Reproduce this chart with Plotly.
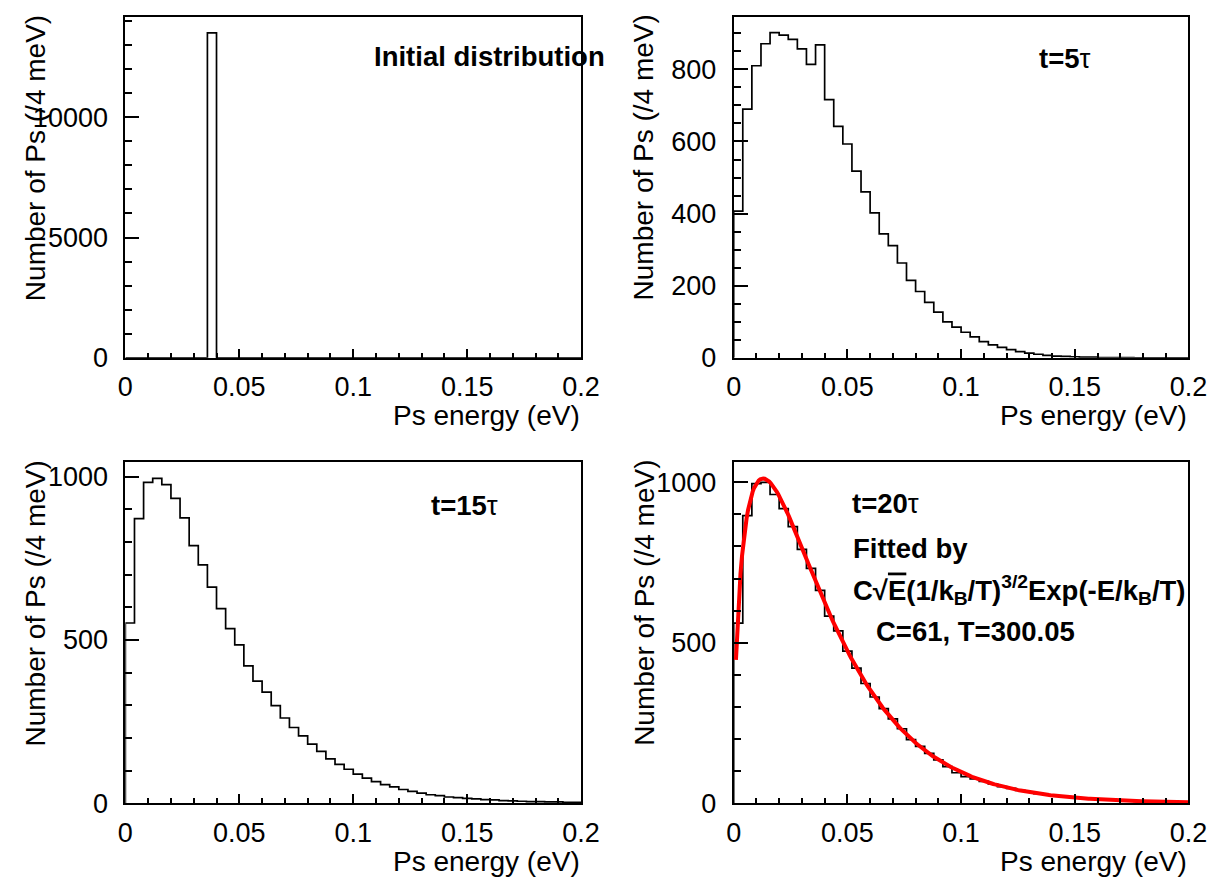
import numpy as np
import plotly.graph_objects as go

W, H = 1228, 889

# ---------------- data ----------------
E_MIN, E_MAX, N_BINS = 0.0, 0.2, 50          # Ps energy (eV), 4 meV bins

counts_initial = [0] * 9 + [13500] + [0] * 40

counts_5tau = [407, 690, 810, 871, 902, 895, 883, 857, 814, 868,
               716, 642, 593, 518, 460, 402, 344, 311, 263, 215,
               184, 154, 127, 100, 85, 71, 58, 45, 36, 29,
               23, 17, 13, 10, 7, 5, 4, 3, 2, 2,
               1, 1, 1, 1, 0, 0, 0, 0, 0, 0]

counts_15tau = [552, 872, 983, 995, 976, 934, 874, 789, 730, 662,
                596, 535, 485, 421, 374, 340, 299, 261, 232, 206,
                181, 159, 136, 119, 104, 89, 77, 66, 57, 50,
                42, 36, 31, 26, 23, 19, 17, 15, 13, 11,
                10, 8, 7, 6, 5, 5, 4, 4, 3, 3]

counts_20tau = [561, 896, 996, 1000, 962, 918, 862, 791, 732, 663,
                583, 537, 474, 421, 373, 331, 295, 263, 232, 198,
                177, 155, 135, 114, 95, 83, 76, 68, 60, 52,
                46, 40, 35, 30, 26, 23, 20, 17, 15, 13,
                11, 10, 8, 7, 6, 5, 5, 4, 4, 3]

# fit parameters quoted on the chart
fit_C = 61.0
fit_T = 300.05
k_B = 8.617333e-5           # eV/K
fit_E_start = 0.001

x_tick_vals = [0, 0.05, 0.1, 0.15, 0.2]
x_tick_text = ["0", "0.05", "0.1", "0.15", "0.2"]

panel_labels = ["Initial distribution", "t=5", "t=15", "t=20"]
x_title = "Ps energy (eV)"
y_title = "Number of Ps (/4 meV)"

# ---------------- helpers ----------------
FONT = "Liberation Sans, Arial, Helvetica, sans-serif"
edges = np.linspace(E_MIN, E_MAX, N_BINS + 1)


def px_x(p):
    return p / W


def px_y(p):
    return (H - p) / H


def step_trace(counts, xa, ya):
    xs = [edges[0]] + list(edges)
    ys = [0] + list(counts) + [0]
    return go.Scatter(x=xs, y=ys, mode="lines", line=dict(shape="hv", color="black", width=1.7),
                      xaxis=xa, yaxis=ya, showlegend=False, hoverinfo="skip")


# frames in pixels
cols = [(120, 586), (742, 1207)]
rows = [(17, 364), (470, 817)]

panels = [
    dict(col=0, row=0, counts=counts_initial, ymax=14175, ymaj=[0, 5000, 10000], ymin_step=1000),
    dict(col=1, row=0, counts=counts_5tau, ymax=946, ymaj=[0, 200, 400, 600, 800], ymin_step=50),
    dict(col=0, row=1, counts=counts_15tau, ymax=1045, ymaj=[0, 500, 1000], ymin_step=100),
    dict(col=1, row=1, counts=counts_20tau, ymax=1063, ymaj=[0, 500, 1000], ymin_step=100),
]

fig = go.Figure()
layout = dict(width=W, height=H, margin=dict(l=0, r=0, t=0, b=0, pad=0),
              paper_bgcolor="white", plot_bgcolor="white",
              font=dict(family=FONT, color="black"), showlegend=False)

x_minor = [v for v in np.arange(0, 0.2001, 0.01) if all(abs(v - m) > 1e-9 for m in x_tick_vals)]

annotations = []
for i, p in enumerate(panels):
    n = "" if i == 0 else str(i + 1)
    xa, ya = "x" + n, "y" + n
    x0, x1 = cols[p["col"]]
    y0, y1 = rows[p["row"]]
    fig.add_trace(step_trace(p["counts"], xa, ya))
    y_minor = [v for v in np.arange(0, p["ymax"], p["ymin_step"]) if v not in p["ymaj"]]
    layout["xaxis" + n] = dict(
        domain=[px_x(x0), px_x(x1)], anchor=ya, range=[E_MIN, E_MAX],
        tickmode="array", tickvals=x_tick_vals, ticktext=x_tick_text,
        ticks="inside", ticklen=9, tickwidth=1.5, tickcolor="black",
        showline=True, linecolor="black", linewidth=2, mirror=True,
        showgrid=False, zeroline=False, tickfont=dict(size=27, family=FONT),
        ticklabelstandoff=4,
        minor=dict(tickmode="array", tickvals=x_minor, ticks="inside", ticklen=5,
                   tickwidth=1.5, tickcolor="black", showgrid=False),
    )
    layout["yaxis" + n] = dict(
        domain=[px_y(y1), px_y(y0)], anchor=xa, range=[0, p["ymax"]],
        tickmode="array", tickvals=p["ymaj"], ticktext=[str(v) for v in p["ymaj"]],
        ticks="inside", ticklen=14, tickwidth=1.5, tickcolor="black",
        showline=True, linecolor="black", linewidth=2, mirror=True,
        showgrid=False, zeroline=False, tickfont=dict(size=27, family=FONT),
        ticklabelstandoff=10,
        minor=dict(tickmode="array", tickvals=y_minor, ticks="inside", ticklen=7,
                   tickwidth=1.5, tickcolor="black", showgrid=False),
    )
    # axis titles
    annotations.append(dict(text=x_title, xref="paper", yref="paper",
                            x=px_x(x1 + 1), y=px_y(y1 + 59), xanchor="right", yanchor="middle",
                            showarrow=False, font=dict(size=28, family=FONT)))
    annotations.append(dict(text=y_title, xref="paper", yref="paper", textangle=-90,
                            x=px_x(x0 - 92), y=px_y(y0 - 4), xanchor="center", yanchor="top",
                            showarrow=False, font=dict(size=28, family=FONT)))

# fit curve on the last panel
E_fit = np.linspace(fit_E_start, E_MAX, 300)
kT = k_B * fit_T
f_fit = fit_C * np.sqrt(E_fit) * (1.0 / kT) ** 1.5 * np.exp(-E_fit / kT)
fig.add_trace(go.Scatter(x=E_fit, y=f_fit, mode="lines", line=dict(color="#ff0000", width=4),
                         xaxis="x4", yaxis="y4", showlegend=False, hoverinfo="skip"))

TXT = 27.5


def label(text, xpx, ypx, size=TXT):
    annotations.append(dict(text=text, xref="paper", yref="paper", x=px_x(xpx), y=px_y(ypx),
                            xanchor="left", yanchor="middle", showarrow=False,
                            font=dict(size=size, family=FONT)))


label("<b>" + panel_labels[0] + "</b>", 372, 57.5)
label("<b>" + panel_labels[1] + "</b>τ", 1051.7, 59)
label("<b>" + panel_labels[2] + "</b>τ", 430, 514)
label("<b>" + panel_labels[3] + "</b>τ", 860.7, 512.5)
label("<b>Fitted by</b>", 861.7, 557.8)
label("<b>C√<span style='text-decoration:overline'>E</span>(1/k<sub>B</sub>/T)<sup>3/2</sup>"
      "Exp(-E/k<sub>B</sub>/T)</b>", 861.7, 600)
label("<b>C=%g, T=%.2f</b>" % (fit_C, fit_T), 885.7, 642.3)

layout["annotations"] = annotations
fig.update_layout(**layout)
fig.write_html("out.html", config={"displayModeBar": False},
               post_script="document.body.style.margin='0px';document.body.style.overflow='hidden';"
                           "document.documentElement.style.overflow='hidden';")
